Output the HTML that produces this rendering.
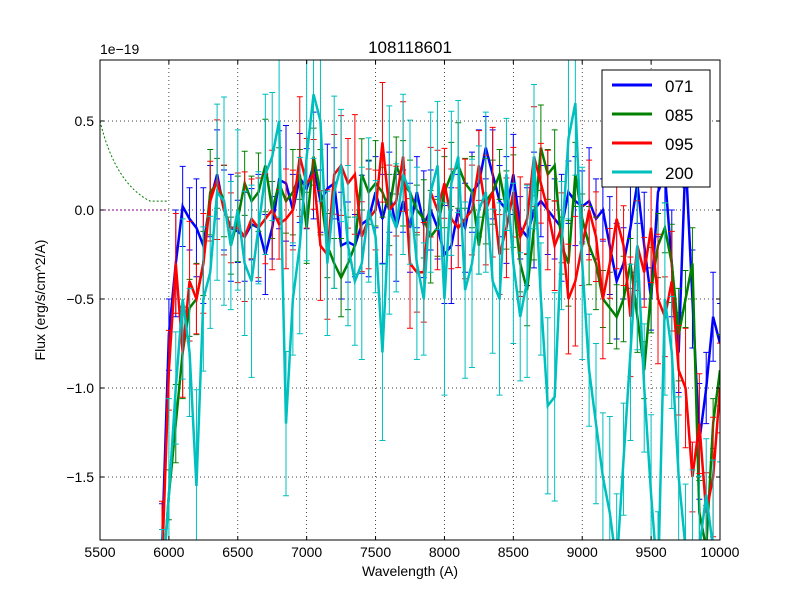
<!DOCTYPE html>
<html><head><meta charset="utf-8"><style>
html,body{margin:0;padding:0;background:#fff;overflow:hidden;width:800px;height:600px;}
svg{display:block;font-family:"Liberation Sans","DejaVu Sans",sans-serif;}
</style></head><body>
<svg id="chart" width="800" height="600" xmlns="http://www.w3.org/2000/svg">
<rect width="800" height="600" fill="#fff"/>
<defs><clipPath id="clip"><rect x="100" y="60" width="620" height="480"/></clipPath></defs>
<g id="grid"></g>
<g id="plot" clip-path="url(#clip)"></g>
<rect x="100" y="60" width="620" height="480" fill="none" stroke="#000"/>
<g id="axes"></g>
<text x="410" y="53" font-size="17" text-anchor="middle">108118601</text>
<text x="100" y="54" font-size="14">1e−19</text>
<text x="410" y="576" font-size="14" text-anchor="middle">Wavelength (A)</text>
<text x="45" y="300" font-size="14" text-anchor="middle" transform="rotate(-90 45 300)">Flux (erg/s/cm^2/A)</text>
<g id="legend"></g>
</svg>
<script>
const wl=[5950,6000,6050,6100,6150,6200,6250,6300,6350,6400,6450,6500,6550,6600,6650,6700,6750,6800,6850,6900,6950,7000,7050,7100,7150,7200,7250,7300,7350,7400,7450,7500,7550,7600,7650,7700,7750,7800,7850,7900,7950,8000,8050,8100,8150,8200,8250,8300,8350,8400,8450,8500,8550,8600,8650,8700,8750,8800,8850,8900,8950,9000,9050,9100,9150,9200,9250,9300,9350,9400,9450,9500,9550,9600,9650,9700,9750,9800,9850,9900,9950,10000];
const s071=[-1.9,-0.7,-0.3,0.02,-0.05,-0.1,-0.2,0.05,0.2,0.0,-0.1,-0.12,-0.15,-0.08,-0.1,-0.25,-0.1,0.17,0.15,0.0,0.18,0.12,0.25,0.05,0.12,0.15,-0.2,-0.18,-0.2,-0.08,-0.05,0.1,-0.05,0.1,-0.1,0.05,-0.1,0.1,-0.08,0.0,-0.1,-0.25,-0.2,0.0,-0.1,0.1,0.15,0.35,0.2,0.05,0.0,0.2,-0.1,-0.15,0.0,0.05,0.0,-0.05,-0.1,0.1,0.05,0.02,0.05,-0.05,0.0,-0.2,-0.4,-0.3,-0.1,0.15,-0.2,-0.5,0.1,0.2,-0.3,-0.8,0.3,-0.5,-1.3,-1.0,-0.6,-0.75];
const s085=[-2.2,-1.6,-1.2,-0.8,-0.55,-0.5,-0.3,0.1,0.15,0.05,-0.2,-0.05,0.15,0.05,0.1,0.25,0.0,0.15,0.05,0.1,0.2,-0.1,0.3,0.1,-0.2,-0.3,-0.38,-0.3,-0.2,0.2,0.1,0.15,0.1,0.0,0.25,0.15,0.1,0.0,-0.05,-0.15,-0.1,0.1,0.2,0.25,0.15,0.1,-0.2,0.05,0.1,0.2,0.0,0.05,-0.3,-0.45,-0.1,0.35,0.2,0.25,-0.2,-0.3,0.2,-0.05,-0.2,-0.3,-0.5,-0.55,-0.6,-0.5,-0.3,-0.6,-0.9,-0.45,-0.2,-0.1,-0.3,-0.7,-0.5,-0.3,-1.7,-1.9,-1.2,-0.9];
const s095=[-2.0,-0.9,-0.3,-0.8,-0.4,-0.5,-0.3,0.05,0.17,0.0,-0.1,-0.1,-0.15,-0.05,-0.1,-0.05,0.0,-0.08,-0.05,0.0,0.3,0.15,0.2,-0.2,-0.25,0.2,0.25,0.15,0.2,-0.15,-0.05,0.0,0.38,0.0,0.05,0.3,-0.3,-0.35,-0.35,0.1,0.0,0.15,-0.05,-0.1,-0.05,0.0,0.25,0.0,0.1,-0.25,-0.1,0.1,-0.15,-0.05,0.3,0.15,0.0,-0.2,-0.1,-0.5,-0.4,-0.2,0.0,-0.15,-0.5,-0.3,-0.05,-0.2,-0.6,-0.2,-0.35,-0.1,-0.5,-0.6,-0.4,-0.9,-1.0,-1.5,-1.2,-1.7,-1.5,-1.0];
const s200=[-2.2,-1.6,-1.0,-0.5,-0.8,-1.55,-0.5,-0.35,0.1,0.05,-0.2,0.0,-0.3,-0.4,-0.1,0.2,0.3,0.5,-1.2,-0.5,-0.2,0.3,0.65,0.5,-0.3,0.1,0.25,-0.2,-0.4,-0.3,0.0,-0.15,-0.8,0.0,-0.1,0.2,0.1,-0.3,-0.5,0.1,0.25,-0.5,0.15,0.3,-0.45,-0.3,0.0,0.1,-0.4,-0.5,0.2,-0.3,-0.6,-0.4,0.3,-0.5,-1.1,-1.05,-0.2,0.4,0.6,-0.3,-0.9,-1.2,-1.5,-1.7,-2.0,-1.4,-0.8,-0.2,-1.0,-1.6,-2.1,-0.5,-0.8,-1.5,-1.9,-2.0,-1.9,-1.6,-1.9,-2.0];
const errScale=[0.25,0.2,0.28,0.45];
const errPattern=[1.0,0.8,1.2,0.9,0.7,1.1,1.3,0.8,1.0,0.9,1.2,0.7];
const names=["071","085","095","200"];
const colors=["#0000ff","#008000","#ff0000","#00bfbf"];
const xTicks=[5500,6000,6500,7000,7500,8000,8500,9000,9500,10000];
const yTicks=[-1.5,-1.0,-0.5,0.0,0.5];
const yTickLabels=["−1.5","−1.0","−0.5","0.0","0.5"];
const NS="http://www.w3.org/2000/svg";
const X=v=>100+(v-5500)/4500*620;
const Y=v=>210-v*178;
const CY=v=>Math.max(50,Math.min(590,Y(v)));
function mk(tag,attrs,parent){const e=document.createElementNS(NS,tag);for(const k in attrs)e.setAttribute(k,attrs[k]);parent.appendChild(e);return e;}
const grid=document.getElementById('grid'),axes=document.getElementById('axes'),plot=document.getElementById('plot');
xTicks.forEach(t=>{const x=X(t);
 const g=mk('line',{x1:x,x2:x,y1:60,y2:540,stroke:'#000','stroke-dasharray':'1,3','stroke-width':0.7},grid);
 
 
 mk('line',{x1:x,x2:x,y1:540,y2:536,stroke:'#000'},axes);mk('line',{x1:x,x2:x,y1:60,y2:64,stroke:'#000'},axes);
 const tx=mk('text',{x:x,y:557,'font-size':14,'text-anchor':'middle'},axes);tx.textContent=t;
 
 });
yTicks.forEach((t,i)=>{const y=Y(t);
 const g=mk('line',{x1:100,x2:720,y1:y,y2:y,stroke:'#000','stroke-dasharray':'1,3','stroke-width':0.7},grid);
 
 
 mk('line',{x1:100,x2:104,y1:y,y2:y,stroke:'#000'},axes);mk('line',{x1:716,x2:720,y1:y,y2:y,stroke:'#000'},axes);
 const tx=mk('text',{x:94,y:y+5,'font-size':14,'text-anchor':'end'},axes);tx.textContent=yTickLabels[i];
 
 });
const dl=mk('line',{x1:100,x2:168,y1:Y(0),y2:Y(0),stroke:'#800080','stroke-dasharray':'2,2'},plot);


const dc=mk('path',{d:`M100,${Y(0.5)} Q115,${Y(0.15)} 150,${Y(0.05)} L168,${Y(0.05)}`,fill:'none',stroke:'#008000','stroke-dasharray':'2,2'},plot);


[s071,s085,s095,s200].forEach((s,si)=>{
 const g=mk('g',{},plot);
 
 
 s.forEach((v,i)=>{const x=X(wl[i]);const e=errScale[si]*errPattern[(i+si*3)%errPattern.length];
  const y1=CY(v+e),y2=CY(v-e);
  const eb=mk('path',{d:`M${x},${y1}V${y2}M${x-3},${y1}H${x+3}M${x-3},${y2}H${x+3}`,stroke:colors[si],'stroke-width':1,fill:'none'},g);
  
  });
 const p=mk('polyline',{points:s.map((v,i)=>X(wl[i])+','+CY(v)).join(' '),fill:'none',stroke:colors[si],'stroke-width':2.5},g);
 
 });
const lg=document.getElementById('legend');
mk('rect',{x:602,y:70,width:108,height:117,fill:'#fff',stroke:'#000'},lg);
names.forEach((n,i)=>{const y=85+i*29;
 const l=mk('line',{x1:612,x2:652,y1:y,y2:y,stroke:colors[i],'stroke-width':3},lg);
 
 
 const t=mk('text',{x:665,y:y+7,'font-size':17},lg);t.textContent=n;
 
 });
</script>
</body></html>
